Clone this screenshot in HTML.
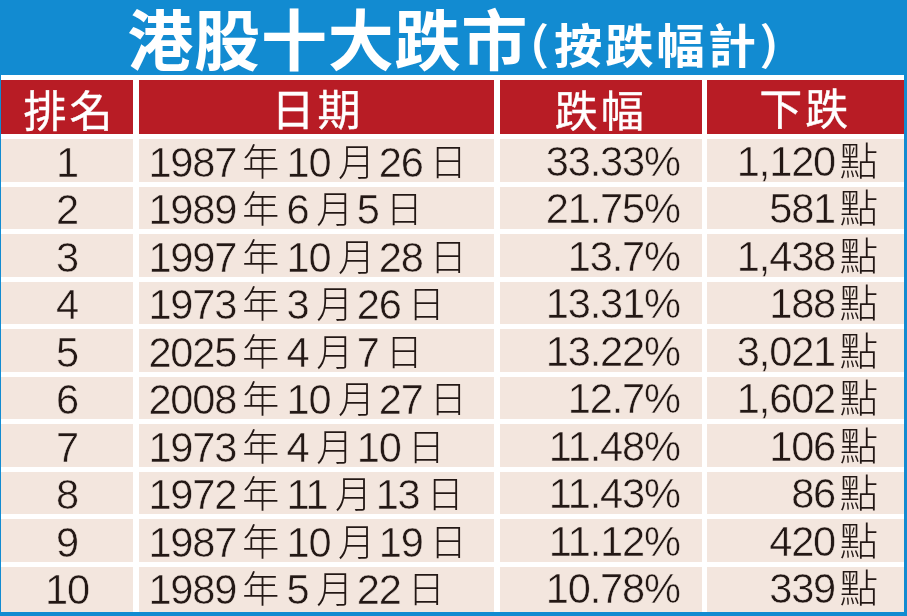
<!DOCTYPE html><html lang="zh-Hant"><head><meta charset="utf-8"><title>港股十大跌市</title><style>
html,body{margin:0;padding:0}
body{width:907px;height:616px;overflow:hidden;background:#128bd1;position:relative;font-family:"Liberation Sans","Noto Sans CJK TC",sans-serif;}
#tbl{position:absolute;left:0.9px;top:75.2px;width:902.8px;height:536.5px;background:#fff;}
.hd{position:absolute;top:80.2px;height:54.2px;background:#b81c25;color:#fff;font-family:"Noto Sans CJK TC","Liberation Sans",sans-serif;font-weight:400;-webkit-text-stroke:0.4px #fff;font-size:43px;line-height:53.8px;text-align:center;letter-spacing:3px;text-indent:3px;white-space:nowrap}
.hd span{position:relative;display:inline-block}
.c{position:absolute;background:#f3e6de;height:42.55px;color:#231815;font-size:41.6px;letter-spacing:-1.166px;line-height:42.55px;white-space:nowrap;-webkit-text-stroke:0.5px #f3e6de}
.w{display:inline-block;transform:scaleX(1)}
.c span{position:relative;top:0.5px}
.c1{left:1px;width:132px;text-align:center}
.c2{left:138.7px;width:355.7px}
.c3{left:500px;width:201.6px;text-align:right}
.c4{left:707px;width:196.6px;text-align:right}
.c1 .w{transform-origin:50% 50%;margin-left:0.034px}
.c2 .w{transform-origin:0 50%;margin-left:9.7px}
.c3 .w{transform-origin:100% 50%;margin-right:21.766px}
.c4 .w{transform-origin:100% 50%;margin-right:25.45px}
.c .k{display:inline-block;transform:scaleX(1);font-family:"Noto Sans CJK TC",sans-serif;font-weight:300;font-size:37px;letter-spacing:0;top:-0.7px;-webkit-text-stroke:0 transparent}
.k1{margin:0 7.4px 0 5.876px}
.k2{margin:0 3.6px 0 7.666px}
.k3{margin:0 0 0 7.066px}
.c1 span{top:2.5px}
.c3 span{top:1.4px}
.c4 span{top:-1.6px}
.c .k4{margin:0 0 0 4.496px;top:-2.7px;font-size:38.6px}
#t1{position:absolute;left:127.3px;top:-1px;height:75px;line-height:75px;color:#fff;font-family:"Noto Sans CJK TC",sans-serif;font-weight:700;font-size:66px;letter-spacing:0.8px;white-space:nowrap}
.t2{position:absolute;top:0;height:75px;line-height:75px;color:#fff;font-family:"Noto Sans CJK TC",sans-serif;font-weight:700;font-size:47px;white-space:nowrap;transform-origin:0 50%;transform:scaleX(1.025)}
#t2a{left:528.5px;top:3px;font-size:45px;transform:scaleX(1.29);font-weight:500}
#t2b{left:553.5px;letter-spacing:3.0px;top:5px}
#t2c{left:758.5px;top:3px;font-size:45px;transform:scaleX(1.29);font-weight:500}
</style></head><body>
<div id="t1">港股十大跌市</div><div class="t2" id="t2a">(</div><div class="t2" id="t2b">按跌幅計</div><div class="t2" id="t2c">)</div>
<div id="tbl"></div>
<div class="hd" style="left:1px;width:132px"><span style="top:2px;left:-0.5px">排名</span></div>
<div class="hd" style="left:138.7px;width:355.7px"><span style="top:1px;left:-2px">日期</span></div>
<div class="hd" style="left:500px;width:201.6px"><span style="top:1.5px;left:-3px">跌幅</span></div>
<div class="hd" style="left:707px;width:196.6px"><span style="top:-0.6px;left:-3px">下跌</span></div>
<div class="c c1" style="top:139.30px;height:42.60px"><div class="w"><span>1</span></div></div>
<div class="c c2" style="top:139.30px;height:42.60px"><div class="w"><span>1987</span><span class="k k1">年</span><span>10</span><span class="k k2">月</span><span>26</span><span class="k k3">日</span></div></div>
<div class="c c3" style="top:139.30px;height:42.60px"><div class="w"><span>33.33%</span></div></div>
<div class="c c4" style="top:139.30px;height:42.60px"><div class="w"><span>1,120</span><span class="k k4">點</span></div></div>
<div class="c c1" style="top:186.80px;height:42.60px"><div class="w"><span>2</span></div></div>
<div class="c c2" style="top:186.80px;height:42.60px"><div class="w"><span>1989</span><span class="k k1">年</span><span>6</span><span class="k k2">月</span><span>5</span><span class="k k3">日</span></div></div>
<div class="c c3" style="top:186.80px;height:42.60px"><div class="w"><span>21.75%</span></div></div>
<div class="c c4" style="top:186.80px;height:42.60px"><div class="w"><span>581</span><span class="k k4">點</span></div></div>
<div class="c c1" style="top:234.30px;height:42.60px"><div class="w"><span>3</span></div></div>
<div class="c c2" style="top:234.30px;height:42.60px"><div class="w"><span>1997</span><span class="k k1">年</span><span>10</span><span class="k k2">月</span><span>28</span><span class="k k3">日</span></div></div>
<div class="c c3" style="top:234.30px;height:42.60px"><div class="w"><span>13.7%</span></div></div>
<div class="c c4" style="top:234.30px;height:42.60px"><div class="w"><span>1,438</span><span class="k k4">點</span></div></div>
<div class="c c1" style="top:281.80px;height:42.60px"><div class="w"><span>4</span></div></div>
<div class="c c2" style="top:281.80px;height:42.60px"><div class="w"><span>1973</span><span class="k k1">年</span><span>3</span><span class="k k2">月</span><span>26</span><span class="k k3">日</span></div></div>
<div class="c c3" style="top:281.80px;height:42.60px"><div class="w"><span>13.31%</span></div></div>
<div class="c c4" style="top:281.80px;height:42.60px"><div class="w"><span>188</span><span class="k k4">點</span></div></div>
<div class="c c1" style="top:329.30px;height:42.60px"><div class="w"><span>5</span></div></div>
<div class="c c2" style="top:329.30px;height:42.60px"><div class="w"><span>2025</span><span class="k k1">年</span><span>4</span><span class="k k2">月</span><span>7</span><span class="k k3">日</span></div></div>
<div class="c c3" style="top:329.30px;height:42.60px"><div class="w"><span>13.22%</span></div></div>
<div class="c c4" style="top:329.30px;height:42.60px"><div class="w"><span>3,021</span><span class="k k4">點</span></div></div>
<div class="c c1" style="top:376.80px;height:42.60px"><div class="w"><span>6</span></div></div>
<div class="c c2" style="top:376.80px;height:42.60px"><div class="w"><span>2008</span><span class="k k1">年</span><span>10</span><span class="k k2">月</span><span>27</span><span class="k k3">日</span></div></div>
<div class="c c3" style="top:376.80px;height:42.60px"><div class="w"><span>12.7%</span></div></div>
<div class="c c4" style="top:376.80px;height:42.60px"><div class="w"><span>1,602</span><span class="k k4">點</span></div></div>
<div class="c c1" style="top:424.30px;height:42.60px"><div class="w"><span>7</span></div></div>
<div class="c c2" style="top:424.30px;height:42.60px"><div class="w"><span>1973</span><span class="k k1">年</span><span>4</span><span class="k k2">月</span><span>10</span><span class="k k3">日</span></div></div>
<div class="c c3" style="top:424.30px;height:42.60px"><div class="w"><span>11.48%</span></div></div>
<div class="c c4" style="top:424.30px;height:42.60px"><div class="w"><span>106</span><span class="k k4">點</span></div></div>
<div class="c c1" style="top:471.80px;height:42.60px"><div class="w"><span>8</span></div></div>
<div class="c c2" style="top:471.80px;height:42.60px"><div class="w"><span>1972</span><span class="k k1">年</span><span>11</span><span class="k k2">月</span><span>13</span><span class="k k3">日</span></div></div>
<div class="c c3" style="top:471.80px;height:42.60px"><div class="w"><span>11.43%</span></div></div>
<div class="c c4" style="top:471.80px;height:42.60px"><div class="w"><span>86</span><span class="k k4">點</span></div></div>
<div class="c c1" style="top:519.30px;height:42.60px"><div class="w"><span>9</span></div></div>
<div class="c c2" style="top:519.30px;height:42.60px"><div class="w"><span>1987</span><span class="k k1">年</span><span>10</span><span class="k k2">月</span><span>19</span><span class="k k3">日</span></div></div>
<div class="c c3" style="top:519.30px;height:42.60px"><div class="w"><span>11.12%</span></div></div>
<div class="c c4" style="top:519.30px;height:42.60px"><div class="w"><span>420</span><span class="k k4">點</span></div></div>
<div class="c c1" style="top:566.80px;height:44.90px"><div class="w"><span>10</span></div></div>
<div class="c c2" style="top:566.80px;height:44.90px"><div class="w"><span>1989</span><span class="k k1">年</span><span>5</span><span class="k k2">月</span><span>22</span><span class="k k3">日</span></div></div>
<div class="c c3" style="top:566.80px;height:44.90px"><div class="w"><span>10.78%</span></div></div>
<div class="c c4" style="top:566.80px;height:44.90px"><div class="w"><span>339</span><span class="k k4">點</span></div></div>
</body></html>
